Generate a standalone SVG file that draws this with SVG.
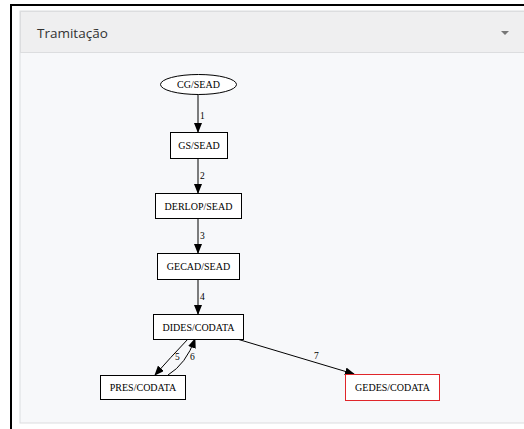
<svg xmlns="http://www.w3.org/2000/svg" width="524" height="429" viewBox="0 0 524 429">
<style>
.node{fill:#ffffff;stroke:#000000;stroke-width:1}
.nl{font-family:"Liberation Serif",serif;font-size:10px;fill:#000;text-anchor:middle}
.el{font-family:"Liberation Serif",serif;font-size:9.5px;fill:#000}
.edge{fill:none;stroke:#000;stroke-width:1}
</style>
<defs>
<marker id="arr" markerWidth="10" markerHeight="8" refX="9" refY="4" orient="auto" markerUnits="userSpaceOnUse">
<path d="M0,0 L10,4 L0,8 z" fill="#000"/>
</marker>
</defs>
<rect x="0" y="0" width="524" height="429" fill="#ffffff"/>
<g id="frame">
<rect x="20" y="11" width="510" height="412" fill="#f7f8fa" stroke="#dcdddf" stroke-width="1"/>
<rect x="20.5" y="11.5" width="510" height="41" fill="#efeff0" stroke="#dcdddf" stroke-width="1"/>
<text x="37" y="38" font-family="'Open Sans','Noto Sans',sans-serif" font-size="13.5px" fill="#333">Tramitação</text>
<path d="M501,31 L509,31 L505,35 z" fill="#777"/>
<line x1="10" y1="5" x2="524" y2="5" stroke="#000" stroke-width="2"/>
<line x1="11" y1="4" x2="11" y2="429" stroke="#000" stroke-width="2"/>
</g>
<g id="connectors">
<line class="edge" x1="198" y1="94" x2="198" y2="132" marker-end="url(#arr)"/>
<text class="el" x="200" y="119">1</text>
<line class="edge" x1="198" y1="158" x2="198" y2="193" marker-end="url(#arr)"/>
<text class="el" x="200" y="179">2</text>
<line class="edge" x1="198" y1="218" x2="198" y2="253" marker-end="url(#arr)"/>
<text class="el" x="200" y="239">3</text>
<line class="edge" x1="198" y1="279" x2="198" y2="314" marker-end="url(#arr)"/>
<text class="el" x="200" y="300">4</text>
<path class="edge" d="M188,339 Q170,358 155,375" marker-end="url(#arr)"/>
<text class="el" x="175" y="360">5</text>
<path class="edge" d="M168,375 Q186,364 195,339" marker-end="url(#arr)"/>
<text class="el" x="190" y="360">6</text>
<line class="edge" x1="237" y1="339" x2="354" y2="374" marker-end="url(#arr)"/>
<text class="el" x="314" y="359">7</text>
</g>
<g id="n_cg"><ellipse class="node" cx="198.5" cy="84.5" rx="38" ry="10"/><text class="nl" x="198.5" y="88">CG/SEAD</text></g>
<g id="n_gs"><rect class="node" x="170.5" y="132.5" width="57" height="26"/><text class="nl" x="199" y="149">GS/SEAD</text></g>
<g id="n_derlop"><rect class="node" x="155.5" y="193.5" width="86" height="25"/><text class="nl" x="198.5" y="209.5">DERLOP/SEAD</text></g>
<g id="n_gecad"><rect class="node" x="157.5" y="253.5" width="82" height="26"/><text class="nl" x="198.5" y="270">GECAD/SEAD</text></g>
<g id="n_dides"><rect class="node" x="153.5" y="314.5" width="90" height="25"/><text class="nl" x="198.5" y="330.5">DIDES/CODATA</text></g>
<g id="n_pres"><rect class="node" x="100.5" y="375.5" width="85" height="24"/><text class="nl" x="143" y="391">PRES/CODATA</text></g>
<g id="n_gedes"><rect class="node" x="345.5" y="374.5" width="94" height="26" style="stroke:#e0262a"/><text class="nl" x="392.5" y="391">GEDES/CODATA</text></g>
</svg>
